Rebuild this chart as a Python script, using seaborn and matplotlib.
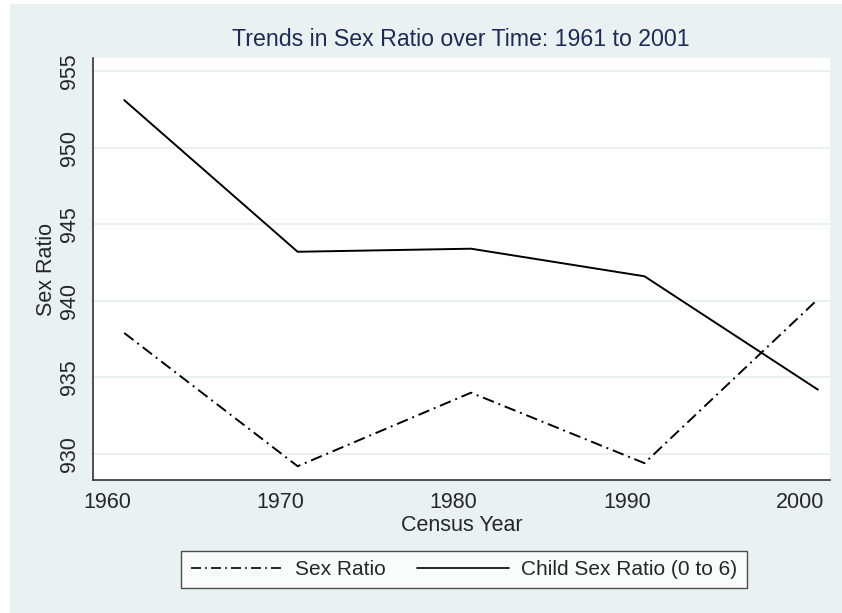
import matplotlib
matplotlib.use("Agg")
import matplotlib.pyplot as plt
import pandas as pd
import seaborn as sns
from matplotlib.lines import Line2D
from matplotlib.patches import Rectangle

years = [1961, 1971, 1981, 1991, 2001]
sex_ratio = [937.9, 929.2, 934.0, 929.4, 940.1]
child_sex_ratio = [953.1, 943.2, 943.4, 941.6, 934.2]
series_names = ['Sex Ratio', 'Child Sex Ratio (0 to 6)']
x_ticks = [1960, 1970, 1980, 1990, 2000]
y_ticks = [930, 935, 940, 945, 950, 955]

BG = '#eaf1f3'
GRID = '#e9f0f2'
TITLE_COLOR = '#1e2a55'

df = pd.DataFrame({
    'year': years * 2,
    'value': sex_ratio + child_sex_ratio,
    'series': [series_names[0]] * len(years) + [series_names[1]] * len(years),
})

sns.set_style('white')
plt.rcParams['font.family'] = ['Liberation Sans', 'DejaVu Sans']

W, H = 842, 613
fig = plt.figure(figsize=(W / 100, H / 100), dpi=100, facecolor='white')
fig.patches.append(Rectangle((10 / W, 0), 1 - 10 / W, 1 - 4 / H,
                             transform=fig.transFigure, facecolor=BG,
                             edgecolor='none', zorder=-10))

ax = fig.add_axes([93 / W, 1 - 480 / H, (830 - 93) / W, (480 - 58) / H])
ax.set_facecolor('white')

dash_dot = (6, 2.5, 1, 2.5)
sns.lineplot(data=df, x='year', y='value', style='series', ax=ax,
             dashes={series_names[0]: dash_dot, series_names[1]: ''},
             color='black', linewidth=1.4, legend=False)

ax.set_xlim(1959.2, 2001.7)
ax.set_ylim(928.3, 955.85)
ax.set_xticks(x_ticks)
ax.set_yticks(y_ticks)
ax.set_yticklabels([str(v) for v in y_ticks], rotation=90, va='center')
ax.tick_params(axis='both', direction='out', length=6, width=1,
               color='#555555', labelsize=15.5, pad=3)
ax.yaxis.grid(True, color=GRID, linewidth=1.4)
ax.set_axisbelow(True)

for side in ['top', 'right']:
    ax.spines[side].set_visible(False)
for side in ['left', 'bottom']:
    ax.spines[side].set_color('#333333')
    ax.spines[side].set_linewidth(1.2)

ax.set_xlabel('Census Year', fontsize=15.5, labelpad=1)
ax.set_ylabel('Sex Ratio', fontsize=15.5, labelpad=2)
fig.text(461 / W, 1 - 40 / H, 'Trends in Sex Ratio over Time: 1961 to 2001',
         ha='center', va='center', fontsize=16.7, color=TITLE_COLOR)

handles = [
    Line2D([], [], color='black', linewidth=1.2, dashes=dash_dot),
    Line2D([], [], color='black', linewidth=1.2),
]
leg = fig.legend(handles, series_names, loc='center',
                 bbox_to_anchor=(464 / W, 1 - 569.5 / H), ncol=2,
                 fontsize=15, frameon=True, fancybox=False,
                 handlelength=4.4, columnspacing=1.5, borderpad=0.45,
                 handletextpad=0.6)
leg.get_frame().set_edgecolor('#222222')
leg.get_frame().set_linewidth(1.0)
leg.get_frame().set_facecolor('white')

fig.savefig('out.png', dpi=100, facecolor='white')
